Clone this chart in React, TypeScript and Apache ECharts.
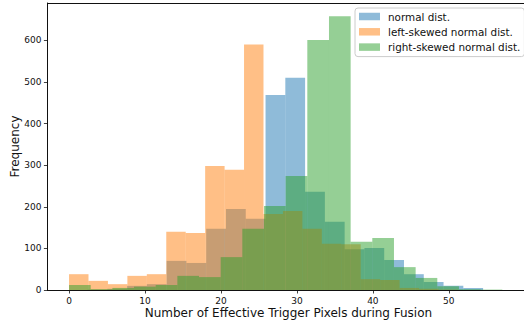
import React, { useEffect, useRef } from "react";
import * as echarts from "echarts";

// Histogram data (20 bins per distribution)
const seriesNames = ["normal dist.", "left-skewed normal dist.", "right-skewed normal dist."];

const normalStart = 2.435;
const normalWidth = 2.604;
const normalCounts = [1, 3, 10, 14, 70, 65, 147, 195, 171, 469, 510, 236, 164, 98, 101, 72, 38, 19, 10, 5];

const leftStart = 0;
const leftWidth = 2.56;
const leftCounts = [38, 22, 14, 34, 38, 140, 137, 298, 289, 590, 183, 190, 147, 111, 110, 26, 24, 5, 3, 1];

const rightStart = 0;
const rightWidth = 2.852;
const rightCounts = [12, 2, 5, 8, 12, 34, 31, 79, 147, 202, 274, 601, 658, 116, 125, 55, 29, 9, 2, 1];

const xTicks = [0, 10, 20, 30, 40, 50];
const yTicks = [0, 100, 200, 300, 400, 500, 600];

const colors = ["rgba(31,119,180,0.5)", "rgba(255,127,14,0.5)", "rgba(44,160,44,0.5)"];

const FONT = "DejaVu Sans";

function toBins(start: number, width: number, counts: number[]) {
  return counts.map((c, i) => [start + i * width, start + (i + 1) * width, c]);
}

export default function App() {
  const ref = useRef<HTMLDivElement>(null);

  useEffect(() => {
    if (!ref.current) return;
    const chart = echarts.init(ref.current, undefined, { renderer: "svg" });

    const hists = [
      toBins(normalStart, normalWidth, normalCounts),
      toBins(leftStart, leftWidth, leftCounts),
      toBins(rightStart, rightWidth, rightCounts),
    ];

    const renderItem = (params: any, api: any) => {
      const x0 = api.value(0);
      const x1 = api.value(1);
      const c = api.value(2);
      const p0 = api.coord([x0, c]);
      const p1 = api.coord([x1, 0]);
      return {
        type: "rect",
        shape: { x: p0[0], y: p0[1], width: p1[0] - p0[0], height: p1[1] - p0[1] },
        style: { fill: api.visual("color") },
      };
    };

    const xMin = -2.85;
    const xMax = 59.9;

    chart.setOption({
      animation: false,
      grid: { left: 47.4, top: 3, right: -5.3, bottom: 33, containLabel: false },
      xAxis: [
        {
          type: "value",
          min: xMin,
          max: xMax,
          splitLine: { show: false },
          axisLine: { show: true, onZero: false, lineStyle: { color: "#111", width: 1 } },
          axisTick: { show: true, length: 3.5, lineStyle: { color: "#111", width: 0.8 }, customValues: xTicks },
          axisLabel: {
            show: true,
            margin: 6,
            fontSize: 9,
            fontFamily: FONT,
            color: "#111",
            customValues: xTicks,
          },
        },
        {
          type: "value",
          position: "top",
          min: xMin,
          max: xMax,
          splitLine: { show: false },
          axisLine: { show: true, onZero: false, lineStyle: { color: "#111", width: 1 } },
          axisTick: { show: false },
          axisLabel: { show: false },
        },
      ],
      yAxis: {
        type: "value",
        min: 0,
        max: 690,
        splitLine: { show: false },
        axisLine: { show: true, onZero: false, lineStyle: { color: "#111", width: 1 } },
        axisTick: { show: true, length: 3.5, lineStyle: { color: "#111", width: 0.8 }, customValues: yTicks },
        axisLabel: {
          show: true,
          margin: 6,
          fontSize: 9,
          fontFamily: FONT,
          color: "#111",
          customValues: yTicks,
        },
      },
      legend: {
        orient: "vertical",
        left: 355,
        top: 8,
        data: seriesNames,
        icon: "rect",
        itemWidth: 21,
        itemHeight: 7.5,
        itemGap: 3.3,
        backgroundColor: "rgba(255,255,255,0.8)",
        borderColor: "#cccccc",
        borderWidth: 1,
        borderRadius: 3,
        padding: [2.5, 4, 3.5, 4],
        textStyle: { fontSize: 10.4, fontFamily: FONT, color: "#111", lineHeight: 12, padding: [0, 0, 0, 3] },
      },
      graphic: [
        {
          type: "text",
          x: 15,
          y: 146.5,
          rotation: Math.PI / 2,
          style: {
            text: "Frequency",
            fontSize: 12,
            fontFamily: FONT,
            fill: "#111",
            align: "center",
            verticalAlign: "middle",
          },
        },
        {
          type: "text",
          x: 288.4,
          y: 312.5,
          style: {
            text: "Number of Effective Trigger Pixels during Fusion",
            fontSize: 12,
            fontFamily: FONT,
            fill: "#111",
            align: "center",
            verticalAlign: "middle",
          },
        },
      ],
      series: hists.map((data, i) => ({
        type: "custom",
        name: seriesNames[i],
        xAxisIndex: 0,
        yAxisIndex: 0,
        itemStyle: { color: colors[i] },
        encode: { x: [0, 1], y: 2 },
        renderItem,
        data,
      })),
    });

    return () => chart.dispose();
  }, []);

  return (
    <div
      ref={ref}
      style={{ position: "absolute", left: 0, top: 0, width: 524, height: 323 }}
    />
  );
}
